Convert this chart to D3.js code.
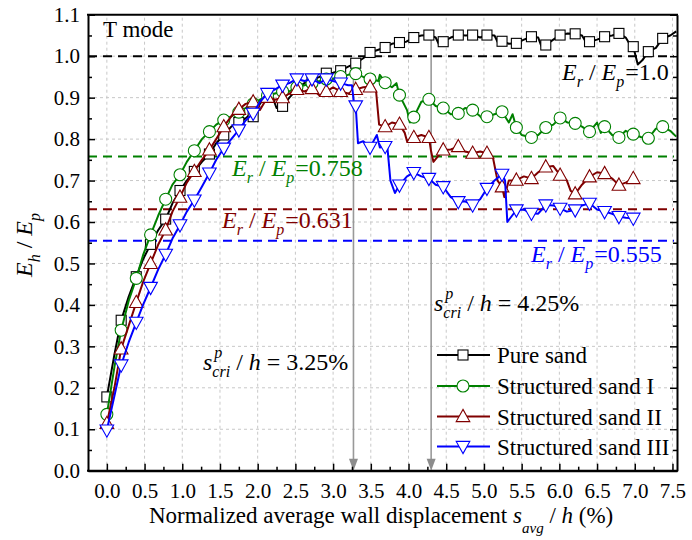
<!DOCTYPE html>
<html><head><meta charset="utf-8">
<script src="https://cdn.jsdelivr.net/npm/d3@7"></script>
<style>
body{margin:0;background:#fff}
svg{display:block}
text{font-family:"Liberation Serif","Times New Roman",serif;white-space:pre}
</style>
</head><body>
<svg id="c" width="692" height="540"></svg>
<script>
// ---- data ----
const markerX = [0,0.19,0.39,0.58,0.78,0.97,1.16,1.36,1.55,1.75,1.94,2.13,2.33,2.52,2.72,2.91,3.10,3.30,3.49,3.69,3.88,4.07,4.27,4.46,4.66,4.85,5.04,5.24,5.43,5.63,5.82,6.01,6.21,6.40,6.60,6.79,6.98,7.18,7.37];

const pureY  = [0.178,0.363,0.468,0.546,0.607,0.676,0.722,0.764,0.810,0.840,0.854,0.910,0.879,0.920,0.943,0.959,0.965,0.983,1.009,1.021,1.033,1.045,1.051,1.035,1.051,1.051,1.051,1.036,1.031,1.047,1.027,1.051,1.054,1.035,1.047,1.055,1.023,1.011,1.043];
const sand1Y = [0.136,0.339,0.464,0.569,0.655,0.714,0.772,0.818,0.846,0.865,0.885,0.905,0.915,0.925,0.935,0.945,0.951,0.958,0.945,0.936,0.906,0.853,0.896,0.875,0.862,0.870,0.854,0.866,0.828,0.804,0.828,0.851,0.838,0.818,0.830,0.804,0.812,0.802,0.830];
const sand2Y = [0.114,0.294,0.406,0.500,0.581,0.660,0.722,0.774,0.830,0.872,0.890,0.901,0.900,0.920,0.922,0.915,0.915,0.920,0.926,0.830,0.836,0.804,0.804,0.774,0.782,0.766,0.766,0.685,0.701,0.705,0.733,0.713,0.668,0.709,0.717,0.689,0.705];
const sand3Y = [0.098,0.255,0.358,0.442,0.522,0.593,0.653,0.718,0.778,0.822,0.862,0.910,0.930,0.945,0.945,0.945,0.935,0.880,0.780,0.782,0.689,0.719,0.705,0.685,0.649,0.641,0.681,0.715,0.629,0.621,0.641,0.633,0.629,0.645,0.625,0.613,0.609];

// extra (unmarked) points along each recorded curve, [x, y]
const pureExtra = [[0.1,0.28],[0.29,0.42],[0.48,0.51],[0.68,0.58],[0.87,0.645],[1.06,0.70],[1.26,0.745],[1.45,0.79],[1.65,0.83],[1.84,0.85],[1.9,0.86],[2.03,0.885],[2.2,0.90],[2.25,0.875],[2.42,0.90],[2.62,0.935],[2.82,0.95],[3.0,0.96],[3.2,0.975],[3.4,0.995],[3.59,1.015],[3.78,1.03],[3.97,1.035],[4.17,1.05],[4.36,1.045],[4.4,1.03],[4.56,1.045],[4.76,1.05],[4.95,1.045],[5.14,1.05],[5.18,1.035],[5.33,1.03],[5.53,1.04],[5.72,1.045],[5.76,1.025],[5.92,1.04],[6.11,1.055],[6.3,1.05],[6.35,1.035],[6.5,1.04],[6.7,1.05],[6.88,1.045],[6.93,1.03],[7.04,0.98],[7.1,0.99],[7.28,1.02],[7.47,1.05],[7.55,1.06]];
const sand1Extra = [[0.1,0.25],[0.29,0.41],[0.48,0.52],[0.68,0.615],[0.87,0.69],[1.06,0.745],[1.26,0.80],[1.45,0.835],[1.65,0.855],[1.84,0.875],[2.03,0.895],[2.23,0.91],[2.42,0.915],[2.62,0.93],[2.82,0.94],[3.0,0.945],[3.2,0.955],[3.4,0.95],[3.6,0.94],[3.62,0.955],[3.78,0.925],[3.84,0.935],[3.98,0.87],[4.02,0.84],[4.17,0.89],[4.36,0.88],[4.56,0.86],[4.75,0.875],[4.95,0.855],[5.0,0.845],[5.14,0.86],[5.33,0.84],[5.38,0.86],[5.5,0.81],[5.72,0.81],[5.92,0.835],[6.11,0.84],[6.3,0.83],[6.5,0.84],[6.55,0.815],[6.7,0.81],[6.88,0.82],[7.08,0.805],[7.28,0.825],[7.47,0.82],[7.55,0.806]];
const sand2Extra = [[0.1,0.20],[0.29,0.35],[0.48,0.455],[0.68,0.545],[0.87,0.625],[1.06,0.695],[1.26,0.75],[1.45,0.80],[1.65,0.855],[1.84,0.885],[2.03,0.87],[2.23,0.895],[2.42,0.91],[2.62,0.915],[2.82,0.905],[3.0,0.925],[3.2,0.91],[3.4,0.925],[3.57,0.915],[3.61,0.835],[3.78,0.84],[3.95,0.815],[3.98,0.795],[4.17,0.81],[4.3,0.77],[4.33,0.745],[4.56,0.775],[4.75,0.77],[4.95,0.77],[5.12,0.755],[5.18,0.70],[5.27,0.66],[5.33,0.70],[5.53,0.71],[5.72,0.72],[5.92,0.735],[6.1,0.70],[6.15,0.675],[6.3,0.69],[6.5,0.72],[6.7,0.705],[6.88,0.695],[7.0,0.705]];
const sand3Extra = [[0.1,0.18],[0.29,0.31],[0.48,0.40],[0.68,0.485],[0.87,0.56],[1.06,0.625],[1.26,0.685],[1.45,0.75],[1.65,0.80],[1.84,0.845],[2.03,0.89],[2.23,0.92],[2.42,0.935],[2.62,0.94],[2.82,0.935],[3.0,0.94],[3.2,0.93],[3.25,0.93],[3.28,0.88],[3.33,0.79],[3.4,0.795],[3.58,0.81],[3.62,0.78],[3.72,0.78],[3.76,0.70],[3.82,0.67],[3.98,0.71],[4.17,0.71],[4.36,0.69],[4.56,0.66],[4.75,0.65],[4.95,0.655],[5.14,0.70],[5.28,0.70],[5.31,0.60],[5.53,0.63],[5.72,0.62],[5.92,0.64],[6.1,0.625],[6.3,0.64],[6.5,0.63],[6.7,0.62],[6.88,0.61]];

const seriesNames = ["Pure sand","Structured sand I","Structured sand II","Structured sand III"];
const seriesColors = ["#000000","#008000","#800000","#0000ff"];
const seriesMarkers = ["square","circle","triangleUp","triangleDown"];
const refValues = [1.0, 0.758, 0.631, 0.555];
const refLabels = ["=1.0","=0.758","=0.631","=0.555"];
const criValues = [3.27, 4.30];
const criTops = [0.95, 1.05];
const criLabels = [" = 3.25%", " = 4.25%"];
const xTicks = [0,0.5,1,1.5,2,2.5,3,3.5,4,4.5,5,5.5,6,6.5,7,7.5];
const xMinor = [0.25,0.75,1.25,1.75,2.25,2.75,3.25,3.75,4.25,4.75,5.25,5.75,6.25,6.75,7.25];
const yTicks = [0,0.1,0.2,0.3,0.4,0.5,0.6,0.7,0.8,0.9,1.0,1.1];
const yMinor = [0.05,0.15,0.25,0.35,0.45,0.55,0.65,0.75,0.85,0.95,1.05];

// ---- chart ----
const svg = d3.select("#c");
const L = 88, R = 677, T = 14.75, B = 470.7;
const x = d3.scaleLinear().domain([-0.25, 7.56]).range([L, R]);
const y = d3.scaleLinear().domain([0, 1.1]).range([B, T]);

svg.append("defs").append("clipPath").attr("id","clip")
  .append("rect").attr("x",L).attr("y",T).attr("width",R-L).attr("height",B-T);

// grid
const grid = svg.append("g").attr("stroke","#c8c8c8").attr("stroke-width",1).attr("stroke-dasharray","3,3");
xTicks.forEach(v => grid.append("line").attr("x1",x(v)).attr("x2",x(v)).attr("y1",B).attr("y2",T));
yTicks.filter(v=>v>0 && v<1.1).forEach(v => grid.append("line").attr("x1",L).attr("x2",R).attr("y1",y(v)).attr("y2",y(v)));

// reference lines
refValues.forEach((v,i) => {
  svg.append("line").attr("x1",L).attr("x2",R-3).attr("y1",y(v)).attr("y2",y(v))
    .attr("stroke",seriesColors[i]).attr("stroke-width",2).attr("stroke-dasharray","9,6");
});

// critical arrows
criValues.forEach((v,i) => {
  svg.append("line").attr("x1",x(v)).attr("x2",x(v)).attr("y1",y(criTops[i])).attr("y2",B-10)
    .attr("stroke","#999").attr("stroke-width",1.6);
  svg.append("path").attr("d",`M${x(v)-4.5},${B-12}L${x(v)+4.5},${B-12}L${x(v)},${B}Z`).attr("fill","#8c8c8c");
});

// curves
const allY = [pureY, sand1Y, sand2Y, sand3Y];
const allExtra = [pureExtra, sand1Extra, sand2Extra, sand3Extra];
const line = d3.line().x(d=>x(d[0])).y(d=>y(d[1]));

function drawMarker(g, type, cx, cy, color) {
  if (type==="square") {
    g.append("rect").attr("x",cx-5).attr("y",cy-5).attr("width",10).attr("height",10)
      .attr("fill","#fff").attr("stroke",color).attr("stroke-width",1.1);
  } else if (type==="circle") {
    g.append("circle").attr("cx",cx).attr("cy",cy).attr("r",6)
      .attr("fill","#fff").attr("stroke",color).attr("stroke-width",1.1);
  } else {
    const s = 6.8, up = type==="triangleUp" ? 1 : -1;
    const h = s*1.0;
    g.append("path")
      .attr("d",`M${cx},${cy-up*h*1.05}L${cx+s},${cy+up*h*0.75}L${cx-s},${cy+up*h*0.75}Z`)
      .attr("fill","#fff").attr("stroke",color).attr("stroke-width",1.1);
  }
}

const plot = svg.append("g").attr("clip-path","url(#clip)");
allY.forEach((ys,i) => {
  const pts = ys.map((v,k)=>[markerX[k], v]).concat(allExtra[i]).sort((a,b)=>a[0]-b[0]);
  plot.append("path").attr("d",line(pts)).attr("fill","none")
    .attr("stroke",seriesColors[i]).attr("stroke-width",2).attr("stroke-linejoin","round");
  const mg = plot.append("g");
  ys.forEach((v,k) => drawMarker(mg, seriesMarkers[i], x(markerX[k]), y(v), seriesColors[i]));
});

// axes
function styleAxis(g){
  g.select(".domain").attr("stroke","#000").attr("stroke-width",2);
  g.selectAll(".tick line").attr("stroke","#000").attr("stroke-width",1.5);
  g.selectAll("text").style("font-family","'Liberation Serif','Times New Roman',serif").style("font-size","21px").attr("fill","#000");
}
const gx = svg.append("g").attr("transform",`translate(0,${B})`)
  .call(d3.axisBottom(x).tickValues(xTicks).tickSize(-7).tickSizeOuter(0).tickPadding(12).tickFormat(d3.format(".1f")));
styleAxis(gx);
const gxm = svg.append("g").attr("transform",`translate(0,${B})`)
  .call(d3.axisBottom(x).tickValues(xMinor).tickSize(-4).tickSizeOuter(0).tickFormat(""));
styleAxis(gxm); gxm.select(".domain").remove();

const gy = svg.append("g").attr("transform",`translate(${L},0)`)
  .call(d3.axisLeft(y).tickValues(yTicks).tickSize(-7).tickSizeOuter(0).tickPadding(8).tickFormat(d3.format(".1f")));
styleAxis(gy);
const gym = svg.append("g").attr("transform",`translate(${L},0)`)
  .call(d3.axisLeft(y).tickValues(yMinor).tickSize(-4).tickSizeOuter(0).tickFormat(""));
styleAxis(gym); gym.select(".domain").remove();

const gr = svg.append("g").attr("transform",`translate(${R},0)`)
  .call(d3.axisRight(y).tickValues(yTicks).tickSize(-7).tickSizeOuter(0).tickFormat(""));
styleAxis(gr);
const grm = svg.append("g").attr("transform",`translate(${R},0)`)
  .call(d3.axisRight(y).tickValues(yMinor).tickSize(-4).tickSizeOuter(0).tickFormat(""));
styleAxis(grm); grm.select(".domain").remove();
svg.append("line").attr("x1",L-1).attr("x2",R+1).attr("y1",T).attr("y2",T).attr("stroke","#000").attr("stroke-width",2);
svg.append("line").attr("x1",L-1).attr("x2",R+1).attr("y1",B).attr("y2",B).attr("stroke","#000").attr("stroke-width",2);

// rich text helper
function rich(g, x0, y0, segs, color) {
  let cx = x0;
  segs.forEach(s => {
    const t = g.append("text").attr("x", cx + (s.dx||0)).attr("y", y0 + (s.b||0))
      .style("font-size", (s.s||24)+"px").style("font-style", s.i ? "italic" : "normal")
      .attr("fill", color).text(s.t);
    const w = t.node().getComputedTextLength();
    if (!s.stack) cx += w + (s.dx||0);
  });
  return cx;
}
const ann = svg.append("g");
function erLabel(x0, y0, val, color){
  rich(ann, x0, y0, [
    {t:"E", i:true}, {t:"r", s:16, i:true, b:7}, {t:" / ", i:false},
    {t:"E", i:true}, {t:"p", s:16, i:true, b:7}, {t:val, i:false, dx:1}
  ], color);
}
erLabel(562, 80, refLabels[0], seriesColors[0]);
erLabel(232, 176, refLabels[1], seriesColors[1]);
erLabel(222, 228, refLabels[2], seriesColors[2]);
erLabel(531, 262, refLabels[3], seriesColors[3]);

function criLabel(x0, y0, val){
  rich(ann, x0, y0, [
    {t:"s", i:true}, {t:"p", s:16, i:true, b:-12, dx:2, stack:true}, {t:"cri", s:16, i:true, b:7},
    {t:" / "}, {t:"h", i:true}, {t:val}
  ], "#000");
}
criLabel(203, 370, criLabels[0]);
criLabel(434, 311, criLabels[1]);

ann.append("text").attr("x",103).attr("y",37).style("font-size","23px").attr("fill","#000").text("T mode");

// axis titles
rich(svg, 149, 523, [
  {t:"Normalized average wall displacement ", s:23},
  {t:"s", s:23, i:true}, {t:"avg", s:15, i:true, b:10}, {t:" / ", s:23}, {t:"h", s:23, i:true}, {t:" (%)", s:23}
], "#000");

const yt = svg.append("text").attr("transform","translate(32,245) rotate(-90)")
  .attr("text-anchor","middle").style("font-size","24px").attr("fill","#000");
yt.append("tspan").style("font-style","italic").text("E");
yt.append("tspan").style("font-style","italic").style("font-size","16px").attr("dy",8).text("h");
yt.append("tspan").attr("dy",-8).text(" / ");
yt.append("tspan").style("font-style","italic").text("E");
yt.append("tspan").style("font-style","italic").style("font-size","16px").attr("dy",8).text("p");

// legend
const lg = svg.append("g");
const legY = [355, 386, 416.5, 446.5];
seriesNames.forEach((n,i) => {
  lg.append("line").attr("x1",437).attr("x2",490).attr("y1",legY[i]).attr("y2",legY[i])
    .attr("stroke",seriesColors[i]).attr("stroke-width",2);
  drawMarker(lg, seriesMarkers[i], 463, legY[i], seriesColors[i]);
  lg.append("text").attr("x",497).attr("y",legY[i]+8).style("font-size","23px").attr("fill","#000").text(n);
});
</script>
</body></html>
